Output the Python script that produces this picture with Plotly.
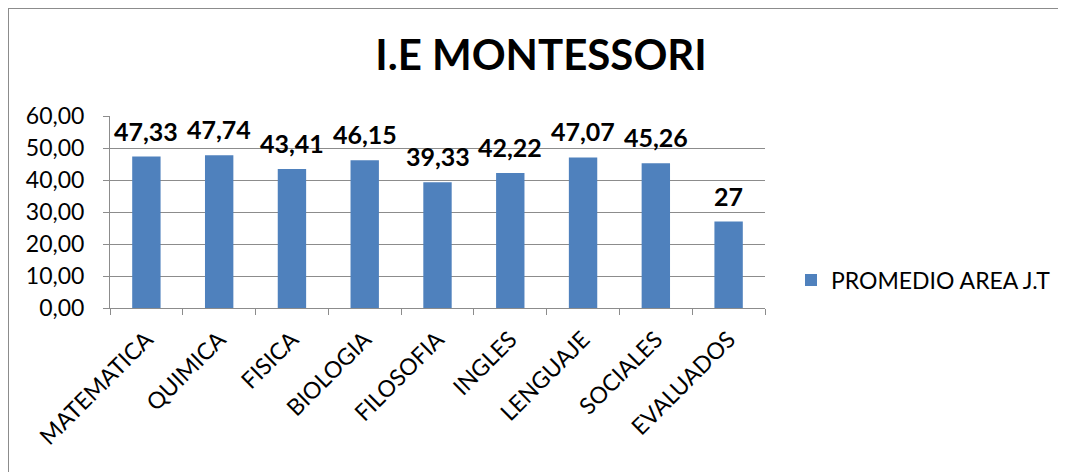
import plotly.graph_objects as go

categories = ["MATEMATICA", "QUIMICA", "FISICA", "BIOLOGIA", "FILOSOFIA",
              "INGLES", "LENGUAJE", "SOCIALES", "EVALUADOS"]
values = [47.33, 47.74, 43.41, 46.15, 39.33, 42.22, 47.07, 45.26, 27]
value_labels = ["47,33", "47,74", "43,41", "46,15", "39,33", "42,22", "47,07", "45,26", "27"]
series_name = "PROMEDIO AREA J.T"
title_text = "I.E MONTESSORI"
y_ticks = [0, 10, 20, 30, 40, 50, 60]

FONT = "Lato, Carlito, Calibri, sans-serif"
BLUE = "#4F81BD"
GRID = "#8C8C8C"

# page body adds an 8px offset; figure coordinates below are screen - 8
OFF = 8
W, H = 1066 - OFF, 472 - OFF
L, R, T, B = 110 - OFF, 765 - OFF, 116 - OFF, 308 - OFF
pw, ph = R - L, B - T

fig = go.Figure()
fig.add_trace(go.Bar(
    x=categories, y=values, name=series_name,
    marker=dict(color=BLUE, line=dict(width=0)),
    showlegend=True,
))

for c, v, t in zip(categories, values, value_labels):
    fig.add_annotation(x=c, y=v, text="<b>%s</b>" % t, showarrow=False,
                       yshift=26, font=dict(family=FONT, size=25, color="#000000"),
                       xref="x", yref="y")

fig.update_layout(
    width=W, height=H,
    margin=dict(l=L, r=W - R, t=T, b=H - B, pad=0, autoexpand=False),
    paper_bgcolor="white", plot_bgcolor="white",
    separators=",.",
    bargap=0.61,
    font=dict(family=FONT, color="#000000"),
    title=dict(text="<b>%s</b>" % title_text, x=(541 - OFF) / W, xanchor="center",
               y=1 - (55 - OFF) / H, yanchor="middle",
               font=dict(family=FONT, size=42, color="#000000")),
    legend=dict(x=(791 - OFF - L) / pw, y=(B - (280 - OFF)) / ph,
                xanchor="left", yanchor="middle",
                font=dict(family=FONT, size=23, color="#000000"),
                itemwidth=30, bgcolor="rgba(0,0,0,0)"),
    xaxis=dict(type="category", tickson="boundaries", ticks="outside", ticklen=6,
               tickcolor=GRID, showline=True, linecolor=GRID, linewidth=1,
               tickangle=-45, tickfont=dict(family=FONT, size=23, color="#000000"),
               ticklabelstandoff=8,
               showgrid=False, automargin=False),
    yaxis=dict(range=[0, 60], tickvals=y_ticks, tickformat=".2f",
               ticks="outside", ticklen=6, tickcolor=GRID,
               showline=True, linecolor=GRID, linewidth=1,
               showgrid=True, gridcolor=GRID, gridwidth=1,
               tickfont=dict(family=FONT, size=23, color="#000000"),
               ticklabelstandoff=14,
               zeroline=False, automargin=False),
    shapes=[
        dict(type="line", xref="paper", yref="paper",
             x0=(0 - L) / pw, x1=(W - L) / pw,
             y0=(B - 0) / ph, y1=(B - 0) / ph,
             line=dict(color="#8C8C8C", width=2)),
        dict(type="line", xref="paper", yref="paper",
             x0=(0 - L) / pw, x1=(0 - L) / pw,
             y0=(B - 0) / ph, y1=(B - H) / ph,
             line=dict(color="#8C8C8C", width=2)),
    ],
)

fig.write_html("out.html")
